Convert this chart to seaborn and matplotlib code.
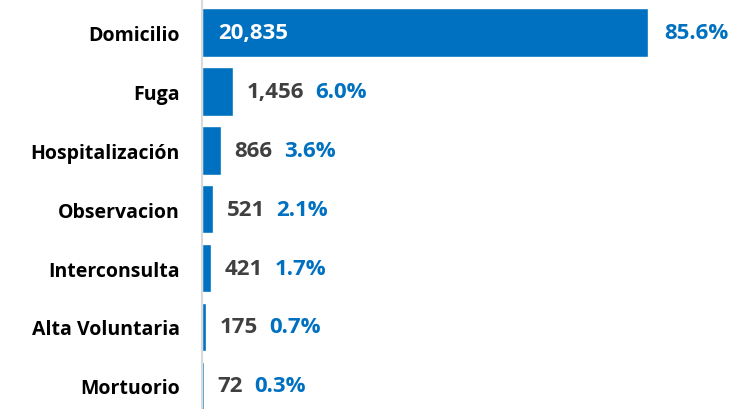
import matplotlib
matplotlib.use("Agg")
import pandas as pd
import seaborn as sns
import matplotlib.pyplot as plt

categories = ['Domicilio', 'Fuga', 'Hospitalización', 'Observacion',
              'Interconsulta', 'Alta Voluntaria', 'Mortuorio']
counts = [20835, 1456, 866, 521, 421, 175, 72]
percents = ['85.6%', '6.0%', '3.6%', '2.1%', '1.7%', '0.7%', '0.3%']

df = pd.DataFrame({'cat': categories, 'n': counts})

sns.set_style("white")
plt.rcParams['font.family'] = ['Open Sans', 'DejaVu Sans']
plt.rcParams['font.weight'] = 'bold'

blue = '#0070C0'
grey = '#404040'

fig = plt.figure(figsize=(7.48, 4.10), dpi=100)
ax = fig.add_axes([202 / 748, 0, 1 - 202 / 748, 1])
sns.barplot(data=df, x='n', y='cat', color=blue, saturation=1, width=0.83, ax=ax)

ax.set_xlim(0, 25506)
ax.set_ylim(6.39, -0.56)
ax.set_xlabel('')
ax.set_ylabel('')
ax.set_xticks([])
ax.tick_params(axis='y', length=0, pad=16, labelsize=14, labelcolor='black')
for lab in ax.get_yticklabels():
    lab.set_fontweight('bold')
for s in ['top', 'right', 'bottom']:
    ax.spines[s].set_visible(False)
ax.spines['left'].set_color('#d9d9d9')
ax.spines['left'].set_linewidth(1.5)

fs = 16
for i, (n, p) in enumerate(zip(counts, percents)):
    if i == 0:
        ax.annotate(f'{n:,}', xy=(0, i), xytext=(12, 0), textcoords='offset points',
                    va='center', ha='left', color='white', fontsize=fs, fontweight='bold')
        ax.annotate(p, xy=(n, i), xytext=(12, 0), textcoords='offset points',
                    va='center', ha='left', color=blue, fontsize=fs, fontweight='bold')
    else:
        t = ax.annotate(f'{n:,}', xy=(n, i), xytext=(10, 0), textcoords='offset points',
                        va='center', ha='left', color=grey, fontsize=fs, fontweight='bold')
        ax.annotate(p, xy=(1, 0.5), xycoords=t, xytext=(8, 0), textcoords='offset points',
                    va='center', ha='left', color=blue, fontsize=fs, fontweight='bold')

fig.savefig('out.png', dpi=100)
